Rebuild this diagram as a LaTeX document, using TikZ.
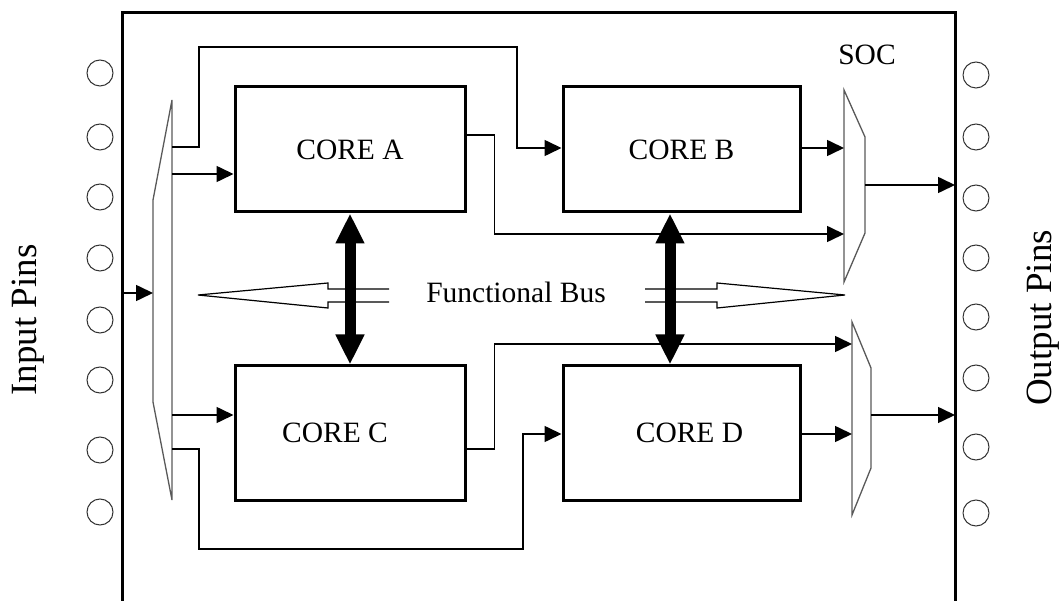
\documentclass[tikz,border=0pt]{standalone}
\usepackage{fontspec}
\setmainfont{Liberation Serif}
\usetikzlibrary{positioning}
\usetikzlibrary{arrows.meta}

\begin{document}
\begin{tikzpicture}[x=1pt,y=-1pt,node distance=331.5pt,on grid,
   core/.style={draw,line width=3pt,inner sep=0pt,font=\fontsize{29.5}{30}\selectfont},
   pin/.style={circle,draw=black!80,line width=1pt,minimum size=26pt,inner sep=0pt},
   wire/.style={line width=1.6pt,-{Triangle[length=17pt,width=16pt]}},
   mux/.style={draw=black!65,line width=1.3pt,line join=miter},
   bus/.style={line width=11pt,{Triangle[length=30pt,width=27pt]}-{Triangle[length=30pt,width=27pt]}},
   hollow/.style={line width=1.2pt,line join=miter},
   big/.style={font=\fontsize{37}{38}\selectfont},
   txt/.style={font=\fontsize{29.5}{30}\selectfont}]
   \useasboundingbox (0,0) rectangle (1063,601);

   % chip outline
   \draw[line width=3pt] (122,601) -- (122,13) -- (955,13) -- (955,601);
   \coordinate (inpin) at (122,293);
   \coordinate (socR) at (955,0);
   \node[txt] (soc) at (867,55) {SOC};

   % pins
   \foreach \y in {73,137,197,258,320,380,450,512}
      \node[pin] (in\y) at (100,\y) {};
   \foreach \y in {75,137,198,258,317,378,447,513}
      \node[pin] (out\y) at (976,\y) {};
   \node[big,rotate=90] (inlabel) at (28,320) {Input Pins};
   \node[big,rotate=90] (outlabel) at (1043,318) {Output Pins};

   % cores
   \node[core,minimum width=230pt,minimum height=125pt] (coreA) at (350,149.5) {CORE A};
   \node[core,minimum width=237pt,minimum height=125pt] (coreB) [right=of coreA] {CORE B};
   \node[core,minimum width=230pt,minimum height=134pt] (coreC) [below=283.5pt of coreA]
      {\hspace*{-30pt}CORE C};
   \node[core,minimum width=237pt,minimum height=134pt] (coreD) [right=of coreC]
      {\hspace*{16pt}CORE D};

   % demux and muxes
   \draw[mux] (172,100) -- (153,200) -- (153,402) -- (172,500) -- cycle;
   \draw[mux] (844,90) -- (865,137) -- (865,233) -- (844,282) -- cycle;
   \draw[mux] (852,322) -- (871,368) -- (871,468) -- (852,515) -- cycle;
   \coordinate (dmxin) at (153,293);
   \coordinate (dmxB) at (172,147);
   \coordinate (dmxA) at (172,174);
   \coordinate (dmxC) at (172,415);
   \coordinate (dmxD) at (172,449);
   \coordinate (mx1a) at (844,148);
   \coordinate (mx1b) at (844,234);
   \coordinate (mx1o) at (865,185);
   \coordinate (mx2a) at (852,344);
   \coordinate (mx2b) at (852,434);
   \coordinate (mx2o) at (871,415);

   % wires
   \draw[wire] (inpin) -- (dmxin);
   \draw[wire] (dmxA) -- (coreA.west |- dmxA);
   \draw[wire] (dmxC) -- (coreC.west |- dmxC);
   \draw[wire] (dmxB) -- ++(27,0) |- (517,47) |- (coreB.west |- mx1a);
   \draw[wire] (dmxD) -- ++(27,0) |- (523,549) |- (coreD.west |- mx2b);
   \draw[wire] ([yshift=14.5pt]coreA.east) -- ++(28,0) |- (mx1b);
   \draw[wire] (coreC.east |- dmxD) -- ++(28,0) |- (mx2a);
   \draw[wire] (coreB.east |- mx1a) -- (mx1a);
   \draw[wire] (coreD.east |- mx2b) -- (mx2b);
   \draw[wire] (mx1o) -- (mx1o -| socR);
   \draw[wire] (mx2o) -- (mx2o -| socR);

   % functional bus
   \node[txt] (fbus) at (516,292) {Functional Bus};
   \draw[hollow] (389,289) -- (328,289) -- (328,283) -- (198,295) -- (328,308) -- (328,302) -- (389,302);
   \draw[hollow] (645,289) -- (717,289) -- (717,283) -- (845,295) -- (717,308) -- (717,302) -- (645,302);
   \draw[bus] (coreA.south) -- (coreC.north);
   \draw[bus] ([xshift=-11.5pt]coreB.south) -- ([xshift=-11.5pt]coreD.north);
\end{tikzpicture}
\end{document}
